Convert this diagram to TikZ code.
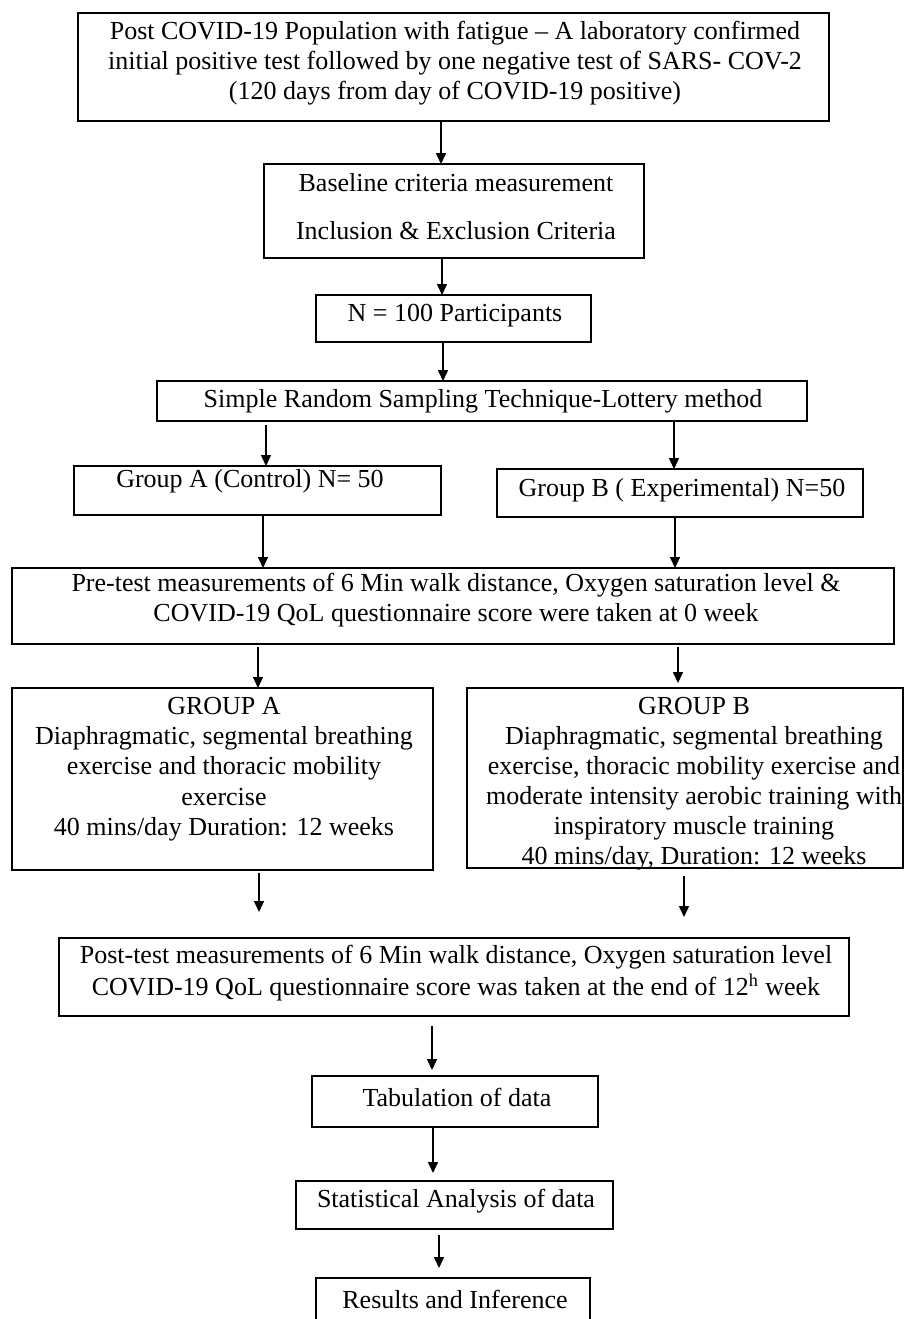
\documentclass[tikz,border=0pt]{standalone}
\usepackage{fontspec}
\setmainfont{Liberation Serif}
\usetikzlibrary{arrows.meta}
\begin{document}
\begin{tikzpicture}[x=0.5pt,y=-0.5pt,
  box/.style={draw,line width=1pt,rectangle,inner sep=0pt,outer sep=0pt},
  txt/.style={align=center,inner sep=0pt,font=\fontsize{13}{#1}\selectfont},
  txt/.default=15pt,
  arr/.style={line width=0.75pt,-{Triangle[length=5.5pt,width=5pt]}}]
\useasboundingbox (0,0) rectangle (904,1319);
\newcommand\bx[5]{\node[box,minimum width={(#4-#2)*0.5pt},minimum height={(#5-#3)*0.5pt}] (#1) at ({(#2+#4)/2},{(#3+#5)/2}) {};}
% boxes
\bx{top}{78}{13}{829}{121}
\bx{base}{264}{164}{644}{258}
\bx{n100}{316}{295}{591}{342}
\bx{simple}{157}{381}{807}{421}
\bx{gA}{74}{466}{441}{515}
\bx{gB}{497}{469}{863}{517}
\bx{pre}{12}{568}{894}{644}
\bx{dA}{12}{688}{433}{870}
\bx{dB}{467}{688}{903}{868}
\bx{post}{59}{938}{849}{1016}
\bx{tab}{312}{1076}{598}{1127}
\bx{stat}{296}{1181}{613}{1229}
\bx{res}{316}{1278}{590}{1332}
% texts
\node[txt=15pt] (topt) at (455,63) {Post COVID-19 Population with fatigue – A laboratory confirmed\\initial positive test followed by one negative test of SARS- COV-2\\(120 days from day of COVID-19 positive)};
\node[txt=24pt] (baset) at (456,207) {Baseline criteria measurement\\Inclusion \& Exclusion Criteria};
\node[txt] (n100t) at (455,316) {N = 100 Participants};
\node[txt] (simplet) at (483,401) {Simple Random Sampling Technique-Lottery method};
\node[txt] (gAt) at (250,481) {Group A (Control) N= 50};
\node[txt] (gBt) at (682,490) {Group B ( Experimental) N=50};
\node[txt=15pt] (pret) at (456,600) {Pre-test measurements of 6 Min walk distance, Oxygen saturation level \&\\COVID-19 QoL questionnaire score were taken at 0 week};
\node[txt=15.1pt] (dAt) at (224,769) {GROUP A\\Diaphragmatic, segmental breathing\\exercise and thoracic mobility\\exercise\\40 mins/day Duration: 12 weeks};
\node[txt=15pt] (dBt) at (694,784) {GROUP B\\Diaphragmatic, segmental breathing\\exercise, thoracic mobility exercise and\\moderate intensity aerobic training with\\inspiratory muscle training\\40 mins/day, Duration: 12 weeks};
\node[txt=16pt] (postt) at (456,973) {Post-test measurements of 6 Min walk distance, Oxygen saturation level\\COVID-19 QoL questionnaire score was taken at the end of 12\textsuperscript{h} week};
\node[txt] (tabt) at (457,1097) {Tabulation of data};
\node[txt] (statt) at (456,1201) {Statistical Analysis of data};
\node[txt] (rest) at (455,1299) {Results and Inference};
% arrow columns
\coordinate (c1) at (441,0);
\coordinate (c2) at (442,0);
\coordinate (c3) at (443,0);
\coordinate (c4) at (266,0);
\coordinate (c5) at (674,0);
\coordinate (c6) at (263,0);
\coordinate (c7) at (675,0);
\coordinate (c8) at (258,0);
\coordinate (c9) at (678,0);
\coordinate (c10) at (259,0);
\coordinate (c11) at (684,0);
\coordinate (c12) at (432,0);
\coordinate (c13) at (433,0);
\coordinate (c14) at (439,0);
% arrows
\draw[arr] (top.south -| c1) -- (base.north -| c1);
\draw[arr] (base.south -| c2) -- (n100.north -| c2);
\draw[arr] (n100.south -| c3) -- (simple.north -| c3);
\draw[arr,shorten <=2pt] (simple.south -| c4) -- (gA.north -| c4);
\draw[arr] (simple.south -| c5) -- (gB.north -| c5);
\draw[arr] (gA.south -| c6) -- (pre.north -| c6);
\draw[arr] (gB.south -| c7) -- (pre.north -| c7);
\draw[arr,shorten <=1.5pt] (pre.south -| c8) -- (dA.north -| c8);
\draw[arr,shorten <=1.5pt,shorten >=2.5pt] (pre.south -| c9) -- (dB.north -| c9);
\draw[arr,shorten <=1.5pt,shorten >=13pt] (dA.south -| c10) -- (post.north -| c10);
\draw[arr,shorten <=4pt,shorten >=10.5pt] (dB.south -| c11) -- (post.north -| c11);
\draw[arr,shorten <=5pt,shorten >=3pt] (post.south -| c12) -- (tab.north -| c12);
\draw[arr,shorten >=4pt] (tab.south -| c13) -- (stat.north -| c13);
\draw[arr,shorten <=3pt,shorten >=5pt] (stat.south -| c14) -- (res.north -| c14);
\end{tikzpicture}
\end{document}
